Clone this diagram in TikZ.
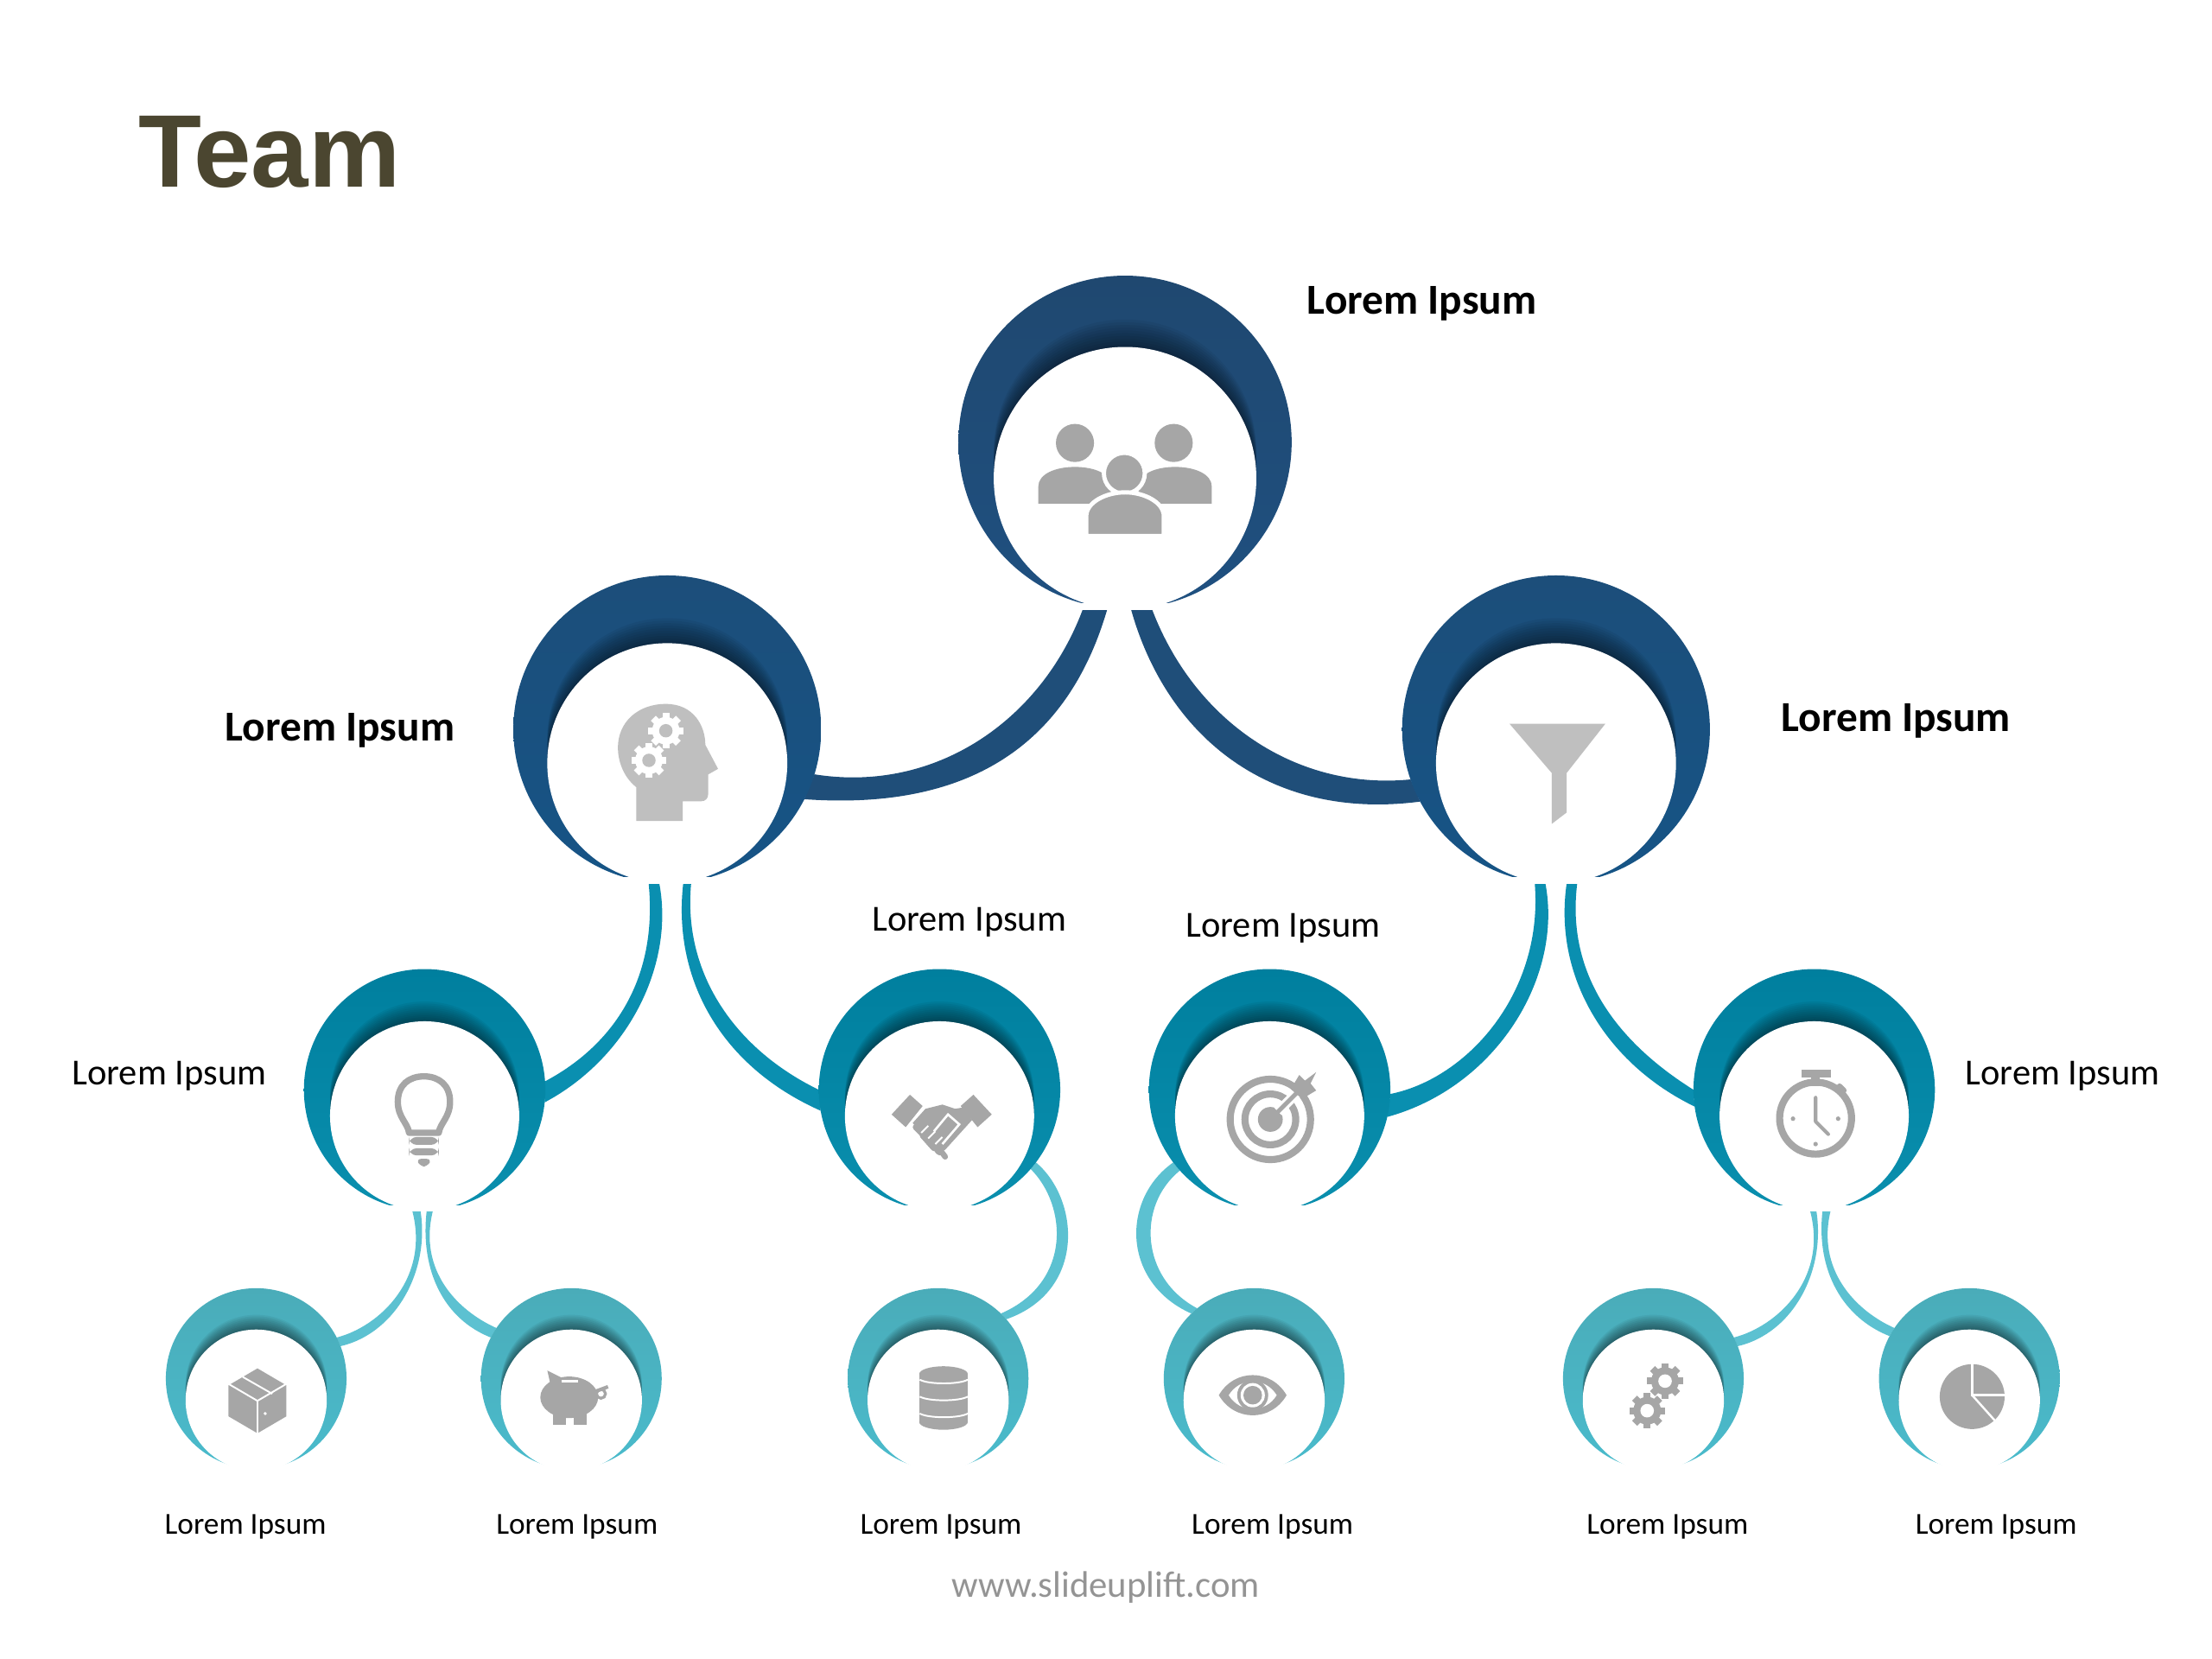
\documentclass[tikz,border=0pt]{standalone}
\usepackage{fontspec}
\setmainfont{Carlito}
\newfontfamily\titlefont{Liberation Sans}
\usetikzlibrary{backgrounds}

\definecolor{bandtop}{HTML}{1F4E79}
\definecolor{bandmid}{HTML}{0A8FB0}
\definecolor{bandlow}{HTML}{5CC1D1}
\definecolor{topup}{HTML}{1F4870}
\definecolor{topdown}{HTML}{1F5080}
\definecolor{lvlup}{HTML}{1C4E7A}
\definecolor{lvldown}{HTML}{165486}
\definecolor{midup}{HTML}{007F9E}
\definecolor{middown}{HTML}{0A8FAE}
\definecolor{lowup}{HTML}{4AACB9}
\definecolor{lowdown}{HTML}{4ABBCC}
\definecolor{icongrey}{HTML}{A6A6A6}
\definecolor{funnelgrey}{HTML}{BFBFBF}
\definecolor{titleolive}{HTML}{4B4630}
\definecolor{webgrey}{HTML}{949494}

\tikzset{
	bubblenode/.style={circle, inner sep=0pt, outer sep=0pt},
	lblbold/.style={font=\fontsize{8.6}{10}\selectfont\bfseries, text=black},
	lblmid/.style={font=\fontsize{7.4}{9}\selectfont, text=black},
	lblsmall/.style={font=\fontsize{6.15}{8}\selectfont, text=black},
	icon/.style={fill=icongrey, draw=none}
}

% name, x, y, outer radius, inner y, inner radius, top colour, bottom colour
\newcommand{\bubble}[8]{
	\node[bubblenode, minimum size={#4*0.02cm}, top color=#7, bottom color=#8] (#1) at (#2,#3) {};
	\begin{scope}
		\clip (#2,#3) circle[radius=#4];
		\foreach \s in {1,...,10}
			\fill[black, opacity=.05] (#2,{#5-\s*0.021*#6}) circle[radius=#6];
	\end{scope}
	\node[bubblenode, fill=white, minimum size={#6*0.02cm}] (#1in) at (#2,#5) {};
	% the tips stop short of the bottom
	\fill[white] ({#2-0.6*#6},{#5+0.95*#6}) rectangle ({#2+0.6*#6},{#5+#6+0.5});
}
% x, y, radius, colour, hole colour
\newcommand{\cogicon}[5]{
	\fill[#4] (#1,#2) circle[radius=#3*0.78];
	\foreach \a in {0,45,...,315}
		\fill[#4, rotate around={\a:(#1,#2)}] ({#1-#3*0.2},{#2-#3}) rectangle ({#1+#3*0.2},#2);
	\fill[#5] (#1,#2) circle[radius=#3*0.38];
}

\begin{document}
\begin{tikzpicture}[x=0.01cm, y=-0.01cm]
	\useasboundingbox (0,0) rectangle (1568,1176);

	\node[font=\titlefont\fontsize{20.8}{24}\selectfont\bfseries, text=titleolive] (title) at (191,108) {Team};

	% the bubbles
	\bubble{top}{797.5}{313.5}{118}{339}{93}{topup}{topdown}
	\bubble{lone}{473}{517}{109}{541}{85}{lvlup}{lvldown}
	\bubble{ltwo}{1103}{517}{109}{541}{85}{lvlup}{lvldown}
	\bubble{mone}{301}{772.5}{85.5}{791}{67}{midup}{middown}
	\bubble{mtwo}{666}{772.5}{85.5}{791}{67}{midup}{middown}
	\bubble{mthree}{900}{772.5}{85.5}{791}{67}{midup}{middown}
	\bubble{mfour}{1286}{772.5}{85.5}{791}{67}{midup}{middown}
	\bubble{sone}{181.6}{977.2}{64}{992.5}{50}{lowup}{lowdown}
	\bubble{stwo}{405}{977.2}{64}{992.5}{50}{lowup}{lowdown}
	\bubble{sthree}{665}{977.2}{64}{992.5}{50}{lowup}{lowdown}
	\bubble{sfour}{889}{977.2}{64}{992.5}{50}{lowup}{lowdown}
	\bubble{sfive}{1172}{977.2}{64}{992.5}{50}{lowup}{lowdown}
	\bubble{ssix}{1396}{977.2}{64}{992.5}{50}{lowup}{lowdown}

	% the bands, behind the bubbles
	\begin{pgfonlayer}{background}
		\fill[bandtop] (top.-96.6) .. controls +(-29,101) and +(112,8) .. (lone.-27) -- (lone.-17.5) .. controls +(88,14) and +(-28,80) .. (top.-104.5) -- cycle;
		\fill[bandtop] (top.-88.8) .. controls +(25,90) and +(-107,14) .. (ltwo.208) -- (ltwo.199) .. controls +(-81,8) and +(30,81) .. (top.-81.4) -- cycle;

		\fill[bandmid] (lone.-93.7) .. controls +(11,57) and +(60,-32) .. (mone.-6.8) -- (mone.4) .. controls +(49,-26) and +(7,68) .. (lone.-97) -- cycle;
		\fill[bandmid] (lone.-84.7) .. controls +(-8,67) and +(-72,-32) .. (mtwo.190) -- (mtwo.180) .. controls +(-56,-27) and +(-7,68) .. (lone.-81) -- cycle;
		\fill[bandmid] (ltwo.-94.2) .. controls +(13,67) and +(77,-21) .. (mthree.-13) -- (mthree.-2.7) .. controls +(55,-11) and +(7,78) .. (ltwo.-98) -- cycle;
		\fill[bandmid] (ltwo.-86.3) .. controls +(-10,67) and +(-62,-30) .. (mfour.188.8) -- (mfour.180) .. controls +(-51,-32) and +(-9,68) .. (ltwo.-82.6) -- cycle;

		\fill[bandlow] (mone.-92.7) .. controls +(7,43) and +(39,-9) .. (sone.21) -- (sone.27) .. controls +(31,-8) and +(13,48) .. (mone.-96) -- cycle;
		\fill[bandlow] (mone.-89.6) .. controls +(-5,43) and +(-33,-13) .. (stwo.153) -- (stwo.146.4) .. controls +(-27,-12) and +(-11,43) .. (mone.-86.4) -- cycle;
		\fill[bandlow] (mtwo.-37) .. controls +(31,26) and +(57,-20) .. (sthree.41) -- (sthree.46) .. controls +(50.5,-22) and +(26,26) .. (mtwo.-41) -- cycle;
		\fill[bandlow] (mthree.217) .. controls +(-37,26) and +(-49.5,-22) .. (sfour.134) -- (sfour.129.5) .. controls +(-40,-21) and +(-31,25) .. (mthree.222) -- cycle;
		\fill[bandlow] (mfour.-89.3) .. controls +(7,43) and +(39,-9) .. (sfive.21) -- (sfive.27) .. controls +(31,-8) and +(13,48) .. (mfour.-92.4) -- cycle;
		\fill[bandlow] (mfour.-86) .. controls +(-5,43) and +(-33,-13) .. (ssix.152) -- (ssix.146.8) .. controls +(-27,-12) and +(-11,43) .. (mfour.-82.7) -- cycle;
	\end{pgfonlayer}

	% people
	\fill[icon] (762,314) circle[radius=13.5];
	\fill[icon] (832,314) circle[radius=13.5];
	\fill[icon] (736,357) -- (736,345) .. controls (736,336) and (748,331) .. (762,331) .. controls (776,331) and (788,336) .. (788,345) -- (788,357) -- cycle;
	\fill[icon] (859,357) -- (859,345) .. controls (859,336) and (847,331) .. (833,331) .. controls (819,331) and (807,336) .. (807,345) -- (807,357) -- cycle;
	\filldraw[icon, draw=white, line width=0.3mm] (797,335.5) circle[radius=14.5];
	\filldraw[icon, draw=white, line width=0.3mm] (770,380) -- (770,366) .. controls (770,356) and (784,349) .. (797.5,349) .. controls (811,349) and (825,356) .. (825,366) -- (825,380) -- cycle;
	\fill[white] (760,379) rectangle (835,385);

	% head with cogs
	\fill[funnelgrey] (451,582) -- (451,558) .. controls (441,550) and (438,538) .. (438,530) .. controls (438,512) and (452,499) .. (472,499) .. controls (492,499) and (500,515) .. (500,528) -- (509,545) -- (502,549) -- (502,563) .. controls (502,566) and (500,568) .. (497,568) -- (484,568) -- (484,582) -- cycle;
	\cogicon{472}{518}{12.5}{white}{funnelgrey}
	\cogicon{460}{539}{12.5}{white}{funnelgrey}

	% funnel
	\fill[funnelgrey] (1070,513) -- (1138,513) -- (1110.5,548) -- (1110.5,576) -- (1100,584) -- (1100,548) -- cycle;

	% bulb
	\draw[icongrey, line width=0.45mm, line join=round] (290,803) .. controls (289,796) and (282,792) .. (282,781) .. controls (282,769) and (290,763) .. (300.5,763) .. controls (311,763) and (319,769) .. (319,781) .. controls (319,792) and (312,796) .. (311,803) -- cycle;
	\fill[icon, rounded corners=1.5] (290,806) rectangle (311,811.5);
	\fill[icon, rounded corners=1.5] (290,814) rectangle (311,819);
	\fill[icon, rounded corners=1] (295,821.5) -- (306,821.5) -- (303,827) -- (298,827) -- cycle;

	% handshake
	\fill[icon] (632,790) -- (645,776) -- (654,784) -- (642,799) -- cycle;
	\fill[icon] (703,790) -- (690,776) -- (681,784) -- (693,799) -- cycle;
	\fill[icon] (647,796) -- (656,786) -- (668,783) -- (677,786) -- (683,785) -- (689,794) -- (670,815) -- (664,818) -- cycle;
	\draw[white, line width=0.16mm] (662,802) -- (672,790) -- (680,797) -- (668,811);
	\draw[icongrey, line width=0.4mm, line cap=round] (649,799) -- (658,808);
	\draw[icongrey, line width=0.4mm, line cap=round] (654,805) -- (662,814);
	\draw[icongrey, line width=0.4mm, line cap=round] (659,809) -- (666,817);
	\draw[icongrey, line width=0.4mm, line cap=round] (664,812) -- (670,820);
	\draw[white, line width=0.12mm] (653,803) -- (658,798);
	\draw[white, line width=0.12mm] (658,807) -- (663,802);
	\draw[white, line width=0.12mm] (663,811) -- (668,806);

	% target
	\draw[icongrey, line width=0.5mm] (900.5,793.5) circle[radius=28.5];
	\draw[icongrey, line width=0.5mm] (900.5,793.5) circle[radius=18];
	\fill[icon] (900.5,793.5) circle[radius=8.8];
	\draw[white, line width=0.7mm] (906,788) -- (926,768);
	\draw[icongrey, line width=0.3mm] (901,793) -- (924,770);
	\fill[icon] (915,772) -- (921,762) -- (925,766) -- (933,760) -- (929,768) -- (933,773) -- (923,779) -- cycle;

	% stopwatch
	\draw[icongrey, line width=0.5mm] (1287,792.6) circle[radius=25.5];
	\fill[icon] (1277,758.5) rectangle (1298,763.5);
	\fill[icon] (1284,763) rectangle (1290,770);
	\draw[icongrey, line width=0.4mm, line cap=round] (1304,770) -- (1307,773);
	\draw[icongrey, line width=0.25mm, line cap=round, line join=round] (1287,778) -- (1287,795) -- (1296,804);
	\fill[icon] (1271,793) circle[radius=1.6];
	\fill[icon] (1303,793) circle[radius=1.6];
	\fill[icon] (1287,811) circle[radius=1.6];

	% box
	\fill[icon] (182.5,970) -- (203,982) -- (203,1004) -- (182.5,1016) -- (162,1004) -- (162,982) -- cycle;
	\draw[white, line width=0.12mm] (162,981) -- (182.5,993) -- (203,981);
	\draw[white, line width=0.12mm] (182.5,993) -- (182.5,1016);
	\draw[white, line width=0.12mm] (172,976) -- (193,988);
	\fill[white] (188,1002) circle[radius=1.2];

	% piggy
	\fill[icon] (403.5,990.5) ellipse[x radius=20.5, y radius=14.7];
	\fill[icon] (388,971.5) -- (399,977) -- (391,985) -- cycle;
	\fill[icon] (392,998) rectangle (401,1010);
	\fill[icon] (407,998) rectangle (416,1010);
	\draw[icongrey, line width=0.25mm] (423,986) -- (431,983);
	\draw[icongrey, line width=0.2mm] (426,988) circle[radius=3.2];
	\draw[white, line width=0.15mm] (398,979) -- (410,979);

	% database
	\fill[icon] (651.6,974) rectangle (686,1008);
	\fill[icon] (668.8,974) ellipse[x radius=17.2, y radius=5.5];
	\fill[icon] (668.8,1008) ellipse[x radius=17.2, y radius=5.5];
	\foreach \h in {978,990,1002}
		\draw[white, line width=0.12mm] (652,\h) .. controls (658,\h+3.5) and (680,\h+3.5) .. (686,\h);

	% eye
	\fill[icon] (864,989) .. controls (875,970) and (901,970) .. (912,989) .. controls (901,1008) and (875,1008) .. (864,989) -- cycle;
	\fill[white] (871,989) .. controls (879,976) and (897,976) .. (905,989) .. controls (897,1002) and (879,1002) .. (871,989) -- cycle;
	\fill[icon] (888,989) circle[radius=11];
	\fill[white] (888,989) circle[radius=8.6];
	\fill[icon] (888,989) circle[radius=6.6];

	% gears
	\cogicon{1180.3}{979}{12.6}{icongrey}{white}
	\cogicon{1167.6}{1000}{12.6}{icongrey}{white}

	% pie
	\fill[icon] (1398,990) circle[radius=23];
	\draw[white, line width=0.15mm] (1398,966) -- (1398,989) -- (1422,989);
	\draw[white, line width=0.15mm] (1398,989) -- (1415,1008);

	% labels
	\node[lblbold] (ltop) at (1008,215) {Lorem Ipsum};
	\node[lblbold] (llone) at (241,518) {Lorem Ipsum};
	\node[lblbold] (lltwo) at (1344,511) {Lorem Ipsum};
	\node[lblmid] (lmone) at (120,763) {Lorem Ipsum};
	\node[lblmid] (lmtwo) at (687,654) {Lorem Ipsum};
	\node[lblmid] (lmthree) at (909.5,658) {Lorem Ipsum};
	\node[lblmid] (lmfour) at (1462,763) {Lorem Ipsum};
	\node[lblsmall] (lsone) at (174,1082) {Lorem Ipsum};
	\node[lblsmall] (lstwo) at (409,1082) {Lorem Ipsum};
	\node[lblsmall] (lsthree) at (667,1082) {Lorem Ipsum};
	\node[lblsmall] (lsfour) at (902,1082) {Lorem Ipsum};
	\node[lblsmall] (lsfive) at (1182,1082) {Lorem Ipsum};
	\node[lblsmall] (lssix) at (1415,1082) {Lorem Ipsum};
	\node[font=\fontsize{7.45}{9}\selectfont, text=webgrey] (web) at (784,1125) {www.slideuplift.com};
\end{tikzpicture}
\end{document}
